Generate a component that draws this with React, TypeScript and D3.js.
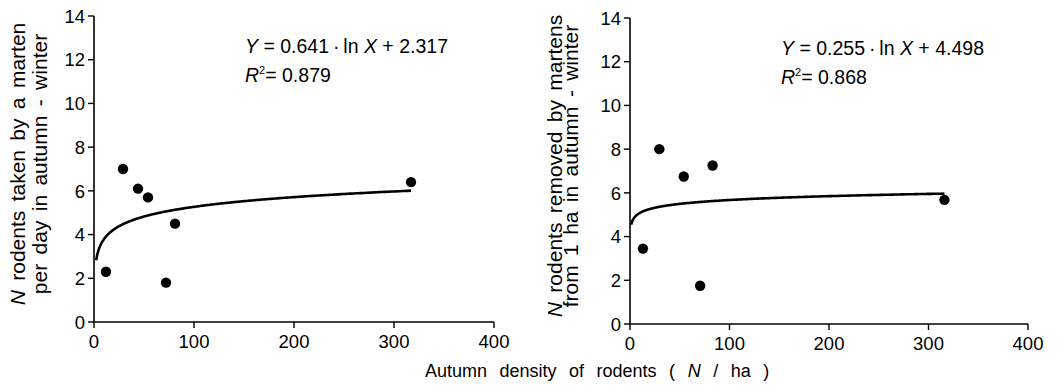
import React from "react";
import * as d3 from "d3";

const yTicks = [0, 2, 4, 6, 8, 10, 12, 14];
const xTicks = [0, 100, 200, 300, 400];

const leftX = [12, 29, 44, 54, 72, 81, 317];
const leftY = [2.3, 7.0, 6.1, 5.7, 1.8, 4.5, 6.4];
const rightX = [13, 29.5, 54, 70.5, 83, 316];
const rightY = [3.45, 8.0, 6.75, 1.75, 7.25, 5.68];

const leftFit = { a: 0.641, b: 2.317, from: 2.2, to: 317, r2: "0.879" };
const rightFit = { a: 0.255, b: 4.498, from: 1.2, to: 316, r2: "0.868" };

const leftLabel = ["rodents taken by a marten", "per day in autumn - winter"];
const rightLabel = ["rodents removed by martens", "from 1 ha in autumn - winter"];
const xLabel = "Autumn density of rodents";

const FONT = "'Liberation Sans', Arial, Helvetica, sans-serif";

type PanelProps = {
  xs: number[];
  ys: number[];
  fit: { a: number; b: number; from: number; to: number; r2: string };
  label: string[];
  x0: number;
  x1: number;
  yTop: number;
  yBot: number;
  eqX: number;
  eqY: number;
  lab1X: number;
  lab2X: number;
  labCY: number;
};

function Panel(p: PanelProps) {
  const x = d3.scaleLinear().domain([0, 400]).range([p.x0, p.x1]);
  const y = d3.scaleLinear().domain([0, 14]).range([p.yBot, p.yTop]);
  const curvePts: [number, number][] = [];
  const n = 400;
  for (let i = 0; i <= n; i++) {
    const lx = Math.log(p.fit.from) + ((Math.log(p.fit.to) - Math.log(p.fit.from)) * i) / n;
    const xv = Math.exp(lx);
    curvePts.push([xv, p.fit.a * Math.log(xv) + p.fit.b]);
  }
  const line = d3
    .line<[number, number]>()
    .x((d) => x(d[0]))
    .y((d) => y(d[1]))
    .curve(d3.curveMonotoneX);
  const fmt = (v: number) => v.toFixed(3);
  return (
    <g>
      <line x1={x(0)} x2={x(0)} y1={y(0)} y2={y(14)} stroke="#000" strokeWidth={1.6} />
      <line x1={x(0) - 0.8} x2={x(400)} y1={y(0)} y2={y(0)} stroke="#000" strokeWidth={1.6} />
      {yTicks.map((t) => (
        <g key={"y" + t}>
          <line x1={x(0) - 6} x2={x(0)} y1={y(t)} y2={y(t)} stroke="#000" strokeWidth={1.4} />
          <text
            x={x(0) - 9}
            y={y(t)}
            dy="0.36em"
            textAnchor="end"
            fontSize={18.5}
            fontFamily={FONT}
          >
            {t}
          </text>
        </g>
      ))}
      {xTicks.map((t) => (
        <g key={"x" + t}>
          <line x1={x(t)} x2={x(t)} y1={y(0)} y2={y(0) + 6} stroke="#000" strokeWidth={1.4} />
          <text x={x(t)} y={y(0) + 26} textAnchor="middle" fontSize={18.5} fontFamily={FONT}>
            {t}
          </text>
        </g>
      ))}
      <path d={line(curvePts) || ""} fill="none" stroke="#000" strokeWidth={2.6} />
      {p.xs.map((xv, i) => (
        <circle key={i} cx={x(xv)} cy={y(p.ys[i])} r={5.2} fill="#000" />
      ))}
      <text x={p.eqX} y={p.eqY} fontSize={19.5} fontFamily={FONT}>
        <tspan fontStyle="italic">Y</tspan>
        <tspan>{` = ${fmt(p.fit.a)}\u2009·\u2009ln `}</tspan>
        <tspan fontStyle="italic">X</tspan>
        <tspan>{` + ${fmt(p.fit.b)}`}</tspan>
      </text>
      <text x={p.eqX} y={p.eqY + 29} fontSize={19.5} fontFamily={FONT}>
        <tspan fontStyle="italic">R</tspan>
        <tspan fontSize={11} dy={-8}>2</tspan>
        <tspan dy={8}>{`= ${p.fit.r2}`}</tspan>
      </text>
      <g transform={`translate(${p.lab1X},${p.labCY}) rotate(-90)`}>
        <text x={0} y={0} textAnchor="middle" fontSize={21} fontFamily={FONT} wordSpacing={3.5}>
          <tspan fontStyle="italic">N</tspan>
          <tspan>{" " + p.label[0]}</tspan>
        </text>
      </g>
      <g transform={`translate(${p.lab2X},${p.labCY}) rotate(-90)`}>
        <text x={0} y={0} textAnchor="middle" fontSize={21} fontFamily={FONT} wordSpacing={3.5}>
          {p.label[1]}
        </text>
      </g>
    </g>
  );
}

export default function App() {
  return (
    <svg
      width={1059}
      height={392}
      style={{ position: "absolute", left: 0, top: 0, background: "#fff" }}
    >
      <rect width={1059} height={392} fill="#fff" />
      <Panel
        xs={leftX}
        ys={leftY}
        fit={leftFit}
        label={leftLabel}
        x0={94}
        x1={494}
        yTop={16}
        yBot={322}
        eqX={245}
        eqY={53}
        lab1X={25}
        lab2X={47}
        labCY={164}
      />
      <Panel
        xs={rightX}
        ys={rightY}
        fit={rightFit}
        label={rightLabel}
        x0={630}
        x1={1028}
        yTop={18}
        yBot={324}
        eqX={781}
        eqY={55}
        lab1X={562}
        lab2X={578}
        labCY={166}
      />
      <text x={425} y={377} fontSize={18} fontFamily={FONT} wordSpacing={7.5}>
        {xLabel + " ( "}
        <tspan fontStyle="italic">N</tspan>
        {" / ha )"}
      </text>
    </svg>
  );
}
